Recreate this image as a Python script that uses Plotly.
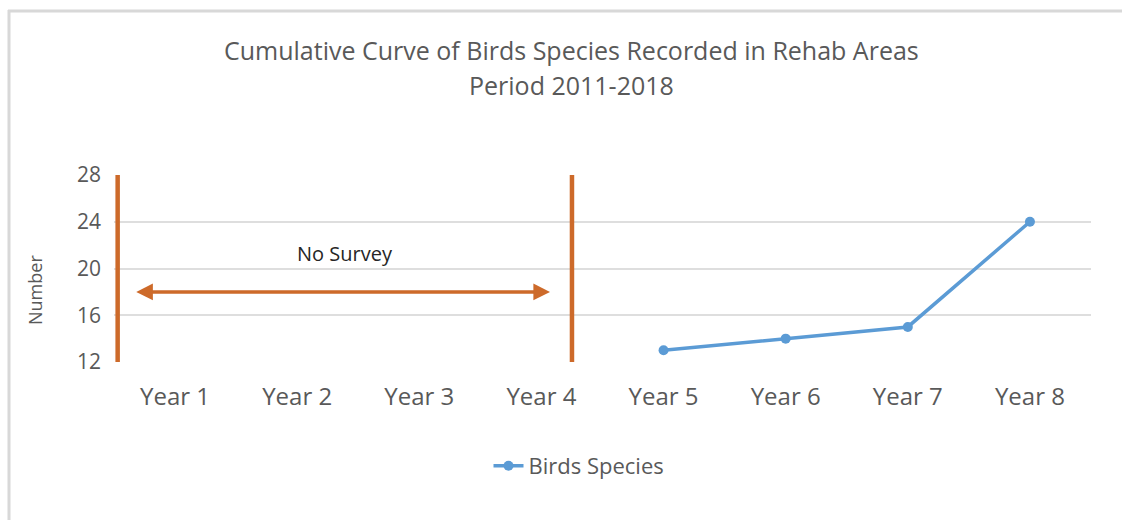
import plotly.graph_objects as go

# Chart data
years = ["Year 1", "Year 2", "Year 3", "Year 4", "Year 5", "Year 6", "Year 7", "Year 8"]
bird_species = [None, None, None, None, 13, 14, 15, 24]
y_ticks = [12, 16, 20, 24, 28]
title_line1 = "Cumulative Curve of Birds Species Recorded in Rehab Areas"
title_line2 = "Period 2011-2018"
no_survey_label = "No Survey"
y_axis_label = "Number"

# Survey boundary markers (category positions) and the "no survey" span
boundary_x = [-0.47, 3.25]
span_start, span_end, span_level = -0.33, 3.07, 18

W, H = 1126, 520
ML, MR, MT, MB = 114, 35, 175, 158
PW, PH = W - ML - MR, H - MT - MB

ORANGE = "#cd6a2a"
BLUE = "#5b9bd5"
GRID = "#dedede"
TXT = "#595959"
FONT = "Open Sans"


def px_to_paper_x(px):
    return (px - ML) / PW


def px_to_paper_y(py):
    return (H - MB - py) / PH


fig = go.Figure()

fig.add_trace(go.Scatter(
    x=years,
    y=bird_species,
    mode="lines+markers",
    name="Birds Species",
    line=dict(color=BLUE, width=3.5),
    marker=dict(color=BLUE, size=10),
    connectgaps=False,
))

shapes = []
for bx in boundary_x:
    shapes.append(dict(
        type="line", xref="x", yref="y",
        x0=bx, x1=bx, y0=y_ticks[0], y1=y_ticks[-1],
        line=dict(color=ORANGE, width=4.5),
    ))

# Chart frame edges (top and left)
shapes.append(dict(
    type="line", xref="paper", yref="paper",
    x0=px_to_paper_x(8), x1=px_to_paper_x(1122),
    y0=px_to_paper_y(11), y1=px_to_paper_y(11),
    line=dict(color="#d8d8d8", width=3),
))
shapes.append(dict(
    type="line", xref="paper", yref="paper",
    x0=px_to_paper_x(9), x1=px_to_paper_x(9),
    y0=px_to_paper_y(10), y1=px_to_paper_y(520),
    line=dict(color="#d8d8d8", width=3),
))

annotations = [
    # double-headed arrow over the unsurveyed years
    dict(
        x=span_end, y=span_level, ax=span_start, ay=span_level,
        xref="x", yref="y", axref="x", ayref="y",
        text="", showarrow=True,
        arrowhead=2, startarrowhead=2, arrowside="end+start",
        arrowsize=0.95, startarrowsize=0.95, arrowwidth=3.5,
        arrowcolor=ORANGE,
    ),
    dict(
        x=1.39, y=21.3, xref="x", yref="y",
        text=no_survey_label, showarrow=False,
        font=dict(family=FONT, size=20, color="#262626"),
    ),
    dict(
        x=px_to_paper_x(571), y=px_to_paper_y(50),
        xref="paper", yref="paper",
        text=title_line1, showarrow=False,
        xanchor="center", yanchor="middle",
        font=dict(family=FONT, size=25, color=TXT),
    ),
    dict(
        x=px_to_paper_x(571), y=px_to_paper_y(85),
        xref="paper", yref="paper",
        text=title_line2, showarrow=False,
        xanchor="center", yanchor="middle",
        font=dict(family=FONT, size=25, color=TXT),
    ),
    # vertical axis label
    dict(
        x=px_to_paper_x(35), y=px_to_paper_y(290),
        xref="paper", yref="paper",
        text=y_axis_label, showarrow=False, textangle=-90,
        xanchor="center", yanchor="middle",
        font=dict(family=FONT, size=18, color=TXT),
    ),
]

fig.update_layout(
    width=W, height=H,
    margin=dict(l=ML, r=MR, t=MT, b=MB, autoexpand=False),
    paper_bgcolor="white",
    plot_bgcolor="white",
    font=dict(family=FONT, color=TXT),
    shapes=shapes,
    annotations=annotations,
    showlegend=True,
    legend=dict(
        orientation="h",
        x=px_to_paper_x(579), y=px_to_paper_y(466),
        xanchor="center", yanchor="middle",
        font=dict(family=FONT, size=22, color=TXT),
        bgcolor="rgba(0,0,0,0)",
    ),
    xaxis=dict(
        type="category",
        categoryorder="array",
        categoryarray=years,
        range=[-0.5, len(years) - 0.5],
        showgrid=False,
        showline=False,
        zeroline=False,
        ticks="",
        ticklabelstandoff=18,
        tickfont=dict(family=FONT, size=24, color=TXT),
    ),
    yaxis=dict(
        range=[y_ticks[0], y_ticks[-1]],
        tickvals=y_ticks,
        showgrid=True,
        gridcolor=GRID,
        gridwidth=1.5,
        zeroline=False,
        showline=False,
        ticks="",
        ticklabelstandoff=12,
        tickfont=dict(family=FONT, size=21, color=TXT),
    ),
)

fig.write_html("out.html")
